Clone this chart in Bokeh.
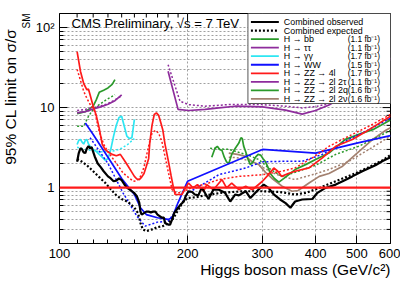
import numpy as np
from bokeh.plotting import figure
from bokeh.models import Range1d, FixedTicker, Span, Label, Title
from bokeh.embed import file_html
from bokeh.resources import INLINE
from bokeh.core.properties import value

# ---------------- data ----------------
obs_m = [110, 111, 112, 113, 114, 115, 116, 117, 118, 119, 120, 121, 123, 125, 127, 130, 132, 134, 136, 138,
         140, 142, 144, 146, 148, 150, 152, 154, 155, 156, 158, 160, 162, 164, 166, 168, 170, 172, 174, 176,
         177, 180, 182, 184, 186, 188, 190, 193, 196, 198, 201, 205, 208, 212, 216, 220, 224, 230, 237, 245,
         252, 259, 264, 274, 281, 291, 302, 310, 319, 330, 340, 349, 358, 372, 393, 404, 422, 446, 463, 488,
         515, 553, 575, 600]
obs_v = [2.1, 2.7, 3.1, 3.0, 2.75, 2.7, 3.1, 3.3, 3.1, 3.2, 2.8, 2.45, 2.0, 1.8, 1.6, 1.38, 1.3, 1.2, 1.22, 1.3,
         1.24, 1.1, 1.0, 0.95, 0.9, 0.85, 0.78, 0.65, 0.5, 0.46, 0.48, 0.5, 0.5, 0.49, 0.5, 0.5, 0.46, 0.44, 0.42, 0.42,
         0.36, 0.345, 0.345, 0.4, 0.48, 0.52, 0.56, 0.62, 0.67, 0.78, 0.9, 0.88, 0.82, 0.8, 1.0, 0.85, 0.72, 0.94, 0.94, 0.86,
         0.67, 0.82, 0.8, 0.9, 0.74, 0.9, 1.09, 0.99, 0.82, 0.71, 0.64, 0.56, 0.67, 0.71, 0.72, 0.86, 0.99, 1.09, 1.2, 1.38,
         1.6, 1.9, 2.15, 2.4]

exp_m = [110, 113, 116, 120, 124, 128, 132, 136, 140, 145, 150, 153, 155, 157, 160, 165, 170, 175, 180, 185,
         190, 195, 200, 210, 220, 240, 270, 300, 330, 358, 380, 410, 446, 488, 534, 575, 600]
exp_v = [2.28, 2.1, 1.9, 1.6, 1.35, 1.15, 0.95, 0.8, 0.72, 0.66, 0.56, 0.48, 0.36, 0.3, 0.285, 0.3, 0.32, 0.33, 0.36, 0.41,
         0.52, 0.66, 0.74, 0.76, 0.8, 0.86, 0.9, 0.9, 0.88, 0.82, 0.86, 1.0, 1.2, 1.45, 1.8, 2.2, 2.55]

bb_m = [110, 115, 120, 122, 124, 127, 130, 133, 135]
bb_obs = [8.4, 8.9, 10.4, 12.5, 15.5, 16.5, 17.6, 19.5, 22.4]
bb_exp_m = [110, 114, 117, 120, 124, 129, 135]
bb_exp = [5.85, 5.85, 7.8, 9.5, 10.9, 12.6, 14.5]

tt_m = [110, 115, 120, 125, 130, 135, 140]
tt_obs = [8.6, 8.9, 9.6, 10.2, 11.0, 12.2, 14.4]
tt_exp = [9.2, 9.5, 10.0, 10.5, 11.2, 12.5, 14.0]

gg_m = [110, 111, 112, 113, 114, 115, 116, 117, 118, 120, 122, 124, 126, 128, 130, 132, 134, 136, 138, 140,
        142, 144, 146, 148, 149, 150]
gg_obs = [3.45, 3.9, 4.0, 3.7, 3.5, 3.9, 4.0, 3.5, 3.28, 3.0, 2.84, 2.6, 2.4, 2.2, 2.3, 3.0, 4.4, 6.0, 7.5, 7.8,
          5.85, 4.4, 4.1, 4.2, 5.5, 7.1]
gg_exp_m = [110, 115, 120, 125, 130, 135, 140, 145, 150]
gg_exp = [3.2, 3.0, 2.9, 2.8, 2.8, 2.9, 3.1, 3.5, 4.1]

ww_m = [115, 120, 130, 140, 150, 155, 160, 170, 180, 184, 190, 200, 300, 400, 500, 600]
ww_obs = [6.4, 4.6, 2.4, 1.3, 0.82, 0.56, 0.46, 0.42, 0.4, 0.42, 0.65, 1.2, 3.0, 2.7, 3.6, 4.46]
ww_exp_m = [118, 130, 141, 152, 159, 170, 180, 190, 194, 200, 237, 274, 300, 333, 372, 415, 479, 534, 600]
ww_exp = [4.2, 2.0, 0.86, 0.44, 0.33, 0.37, 0.38, 0.55, 0.64, 0.85, 1.45, 1.76, 2.1, 2.13, 2.13, 2.6, 4.0, 5.3, 7.4]

zz4l_m = [110, 112, 114, 116, 117, 118, 120, 122, 124, 126, 128, 130, 133, 136, 139, 142, 145, 148, 150, 152,
          154, 156, 158, 160, 162, 163, 165, 167, 169, 171, 173, 175, 177, 180, 183, 185, 187, 194, 198, 201,
          206, 211, 218, 222, 230, 241, 247, 254, 264, 274, 284, 300, 310, 319, 326, 333, 345, 358, 386, 415,
          446, 488, 534, 600]
zz4l_obs = [50, 28.5, 20, 16.7, 17, 14.5, 10.4, 8, 5.5, 3.5, 3.0, 2.8, 2.6, 2.5, 2.6, 2.2, 1.85, 1.55, 1.38, 1.28,
            1.26, 1.35, 1.5, 1.85, 2.3, 3.6, 6.0, 8.2, 8.6, 8.0, 6.5, 5.2, 3.5, 2.24, 1.4, 1.04, 0.82, 0.82, 1.0, 1.14,
            0.99, 1.09, 0.9, 1.09, 0.94, 1.26, 0.99, 1.14, 0.94, 1.04, 0.94, 1.2, 1.45, 1.76, 1.6, 1.38, 1.5, 1.6, 1.76, 2.35,
            3.28, 4.0, 5.3, 7.8]
zz4l_exp_m = [110, 112, 114, 116, 118, 121, 124, 127, 130, 134, 138, 141, 145, 149, 152, 155, 158, 160, 163, 165,
              168, 171, 174, 177, 181, 184, 188, 194, 200, 210, 220, 237, 264, 300, 333, 358, 393, 430, 479, 534, 600]
zz4l_exp = [30, 22, 16, 13, 11, 9.0, 5.0, 3.5, 2.8, 2.24, 1.8, 1.53, 1.35, 1.2, 1.22, 1.38, 1.8, 2.46, 3.8, 4.8,
            5.2, 4.8, 3.8, 2.46, 1.4, 0.94, 0.86, 0.86, 0.95, 1.05, 1.1, 1.26, 1.38, 1.45, 1.6, 1.76, 2.35, 3.28, 4.4, 5.85, 8.2]

zz2l2t_m = [180, 190, 201, 220, 237, 259, 300, 340, 372, 400, 430, 500, 560, 600]
zz2l2t_obs = [28.5, 9.5, 9.2, 9.5, 9.9, 10.4, 10.2, 9.3, 8.3, 9.2, 10.8, 17, 28, 42]
zz2l2t_exp_m = [180, 192, 201, 220, 250, 300, 340, 372, 400, 430, 500, 560, 600]
zz2l2t_exp = [34.4, 12, 10.9, 10.4, 10.9, 10.9, 10.4, 9.9, 10.3, 11.2, 17, 28, 40]

zz2l2q_m = [228, 232, 235, 238, 241, 244, 247, 250, 254, 259, 264, 267, 269, 271, 274, 278, 281, 285, 289, 293,
            297, 301, 305, 309, 313, 320, 328, 340, 358, 380, 400, 430, 470, 515, 545, 600]
zz2l2q_obs = [2.4, 3.1, 3.28, 3.0, 2.9, 2.4, 2.1, 2.0, 2.6, 3.1, 3.6, 4.2, 4.1, 3.3, 2.8, 2.2, 1.94, 2.1, 2.4, 2.6,
              2.55, 2.3, 2.1, 1.8, 1.5, 1.3, 1.17, 1.35, 1.68, 1.95, 2.24, 2.7, 4.0, 4.8, 5.3, 7.0]
zz2l2q_exp_m = [226, 250, 259, 280, 294, 310, 333, 358, 400, 446, 505, 565, 600]
zz2l2q_exp = [3.1, 3.0, 2.84, 2.5, 2.24, 1.76, 1.38, 1.55, 1.9, 2.6, 3.28, 4.4, 5.2]

zz2l2n_m = [250, 262, 274, 284, 294, 305, 316, 333, 352, 364, 386, 408, 430, 463, 497, 545, 585, 600]
zz2l2n_obs = [2.7, 2.6, 2.46, 2.1, 1.94, 1.55, 1.3, 1.05, 0.9, 0.92, 1.14, 1.38, 1.5, 1.85, 2.6, 4.0, 5.2, 5.6]
zz2l2n_exp_m = [250, 264, 284, 300, 316, 333, 358, 393, 430, 479, 534, 600]
zz2l2n_exp = [2.4, 2.35, 2.1, 1.8, 1.55, 1.38, 1.26, 1.45, 1.68, 2.13, 3.0, 4.4]

x_ticks = [100, 200, 300, 400, 500, 600]
x_minor = [110, 120, 130, 140, 150, 160, 170, 180, 190]
y_ticks = [1, 10, 100]
y_minor = [0.2, 0.3, 0.4, 0.5, 0.6, 0.7, 0.8, 0.9, 2, 3, 4, 5, 6, 7, 8, 9, 20, 30, 40, 50, 60, 70, 80, 90]
y_tick_labels = {1: "1", 10: "10", 100: "10²"}

legend_labels = ["Combined observed", "Combined expected", "H → bb", "H → ττ", "H → γγ", "H → WW",
                 "H → ZZ → 4l", "H → ZZ → 2l 2τ", "H → ZZ → 2l 2q", "H → ZZ → 2l 2ν"]
legend_lumi = ["", "", "(1.1 fb⁻¹)", "(1.1 fb⁻¹)", "(1.7 fb⁻¹)", "(1.5 fb⁻¹)",
               "(1.7 fb⁻¹)", "(1.1 fb⁻¹)", "(1.6 fb⁻¹)", "(1.6 fb⁻¹)"]

# ---------------- styling ----------------
GREEN = "#2b9a2b"
PURPLE = "#8e2c9c"
CYAN = "#2de6f2"
BLUE = "#1010ff"
RED = "#ff1a1a"
BROWN = "#a38170"
FONT = "Liberation Sans"

W, H = 400, 279
X0, X1 = 100, 600
Y0, Y1 = 0.2, 150
FL, FR, FT, FB = 58, 390, 13, 243   # frame edges in canvas pixels


def gx(px):
    return 10 ** (np.log10(X0) + (px - FL) / (FR - FL) * np.log10(X1 / X0))


def gy(py):
    return 10 ** (np.log10(Y1) - (py - FT) / (FB - FT) * np.log10(Y1 / Y0))


p = figure(width=W, height=H, x_axis_type="log", y_axis_type="log",
           x_range=Range1d(X0, X1), y_range=Range1d(Y0, Y1),
           output_backend="svg", toolbar_location=None,
           min_border_left=FL, min_border_right=W - FR, min_border_top=FT, min_border_bottom=H - FB)
p.outline_line_color = "black"
p.outline_line_width = 1
p.background_fill_color = "white"
p.border_fill_color = "white"

xt = FixedTicker(ticks=x_ticks, minor_ticks=x_minor)
yt = FixedTicker(ticks=y_ticks, minor_ticks=y_minor)
for ax in p.xaxis:
    ax.ticker = xt
for ax in p.yaxis:
    ax.ticker = yt
    ax.major_label_overrides = y_tick_labels

for ax in list(p.xaxis) + list(p.yaxis):
    ax.major_tick_in = 8
    ax.major_tick_out = 0
    ax.minor_tick_in = 4
    ax.minor_tick_out = 0
    ax.axis_line_color = "black"
    ax.major_label_text_font = FONT
    ax.major_label_text_font_size = "13px"
    ax.major_label_text_color = "black"
    ax.major_label_standoff = 5

p.xgrid.grid_line_color = "#888888"
p.xgrid.grid_line_dash = "2 2"
p.xgrid.grid_line_width = 0.8
p.ygrid.grid_line_color = "#888888"
p.ygrid.grid_line_dash = "2 2"
p.ygrid.grid_line_width = 0.8
p.ygrid.minor_grid_line_color = "#888888"
p.ygrid.minor_grid_line_dash = "2 2"
p.ygrid.minor_grid_line_width = 0.8

# mirrored tick marks on the top and right edges of the frame
top_x = x_ticks + x_minor
top_len = [8] * len(x_ticks) + [4] * len(x_minor)
p.segment(x0=top_x, x1=top_x, y0=[Y1] * len(top_x), y1=[gy(FT + L) for L in top_len],
          line_color="black", line_width=1)
right_y = y_ticks + y_minor
right_len = [8] * len(y_ticks) + [4] * len(y_minor)
p.segment(x0=[X1] * len(right_y), x1=[gx(FR - L) for L in right_len], y0=right_y, y1=right_y,
          line_color="black", line_width=1)

p.add_layout(Span(location=1, dimension="width", line_color=RED, line_width=2.2))

DOT = "2 2"
series = [
    (bb_m, bb_obs, bb_exp_m, bb_exp, GREEN),
    (tt_m, tt_obs, tt_m, tt_exp, PURPLE),
    (gg_m, gg_obs, gg_exp_m, gg_exp, CYAN),
    (zz2l2t_m, zz2l2t_obs, zz2l2t_exp_m, zz2l2t_exp, PURPLE),
    (zz2l2n_m, zz2l2n_obs, zz2l2n_exp_m, zz2l2n_exp, BROWN),
    (zz2l2q_m, zz2l2q_obs, zz2l2q_exp_m, zz2l2q_exp, GREEN),
    (ww_m, ww_obs, ww_exp_m, ww_exp, BLUE),
    (zz4l_m, zz4l_obs, zz4l_exp_m, zz4l_exp, RED),
]
for m, o, me, e, c in series:
    p.line(me, e, line_color=c, line_width=1.5, line_dash=DOT)
    p.line(m, o, line_color=c, line_width=1.7)

p.line(exp_m, exp_v, line_color="black", line_width=2.2, line_dash=DOT)
p.line(obs_m, obs_v, line_color="black", line_width=2.2)

# ---------------- legend (drawn by hand, on top of the curves) ----------------
p.quad(left=[gx(247)], right=[X1], top=[Y1], bottom=[gy(103)],
       fill_color="white", line_color="#555555", line_width=1)
leg_colors = ["black", "black", GREEN, PURPLE, CYAN, BLUE, RED, PURPLE, GREEN, BROWN]
leg_dash = ["solid", DOT] + ["solid"] * 8
rows_y = [gy(21.5 + i * 8.55) for i in range(len(legend_labels))]
for i in range(len(legend_labels)):
    p.line([gx(250), gx(278)], [rows_y[i], rows_y[i]], line_color=leg_colors[i],
           line_width=2.2 if i < 2 else 1.8, line_dash=leg_dash[i])
p.text(x=[gx(283)] * len(legend_labels), y=rows_y, text=legend_labels,
       text_font=value(FONT), text_font_size="8.9px", text_baseline="middle", text_color="black")
p.text(x=[gx(347)] * len(legend_lumi), y=rows_y, text=legend_lumi,
       text_font=value(FONT), text_font_size="8.4px", text_baseline="middle", text_color="black")

# ---------------- titles ----------------
p.add_layout(Label(x=gx(70), y=gy(22.5), text="CMS Preliminary, √s = 7 TeV",
                   text_font=FONT, text_font_size="13.2px", text_baseline="middle", text_color="black"))

p.add_layout(Title(text="Higgs boson mass (GeV/c²)", align="right", standoff=-3,
                   text_font=FONT, text_font_size="15.5px", text_font_style="normal",
                   text_color="black"), "below")
p.add_layout(Title(text="SM", align="right", standoff=0, offset=0, vertical_align="middle",
                   text_font=FONT, text_font_size="10px", text_font_style="normal",
                   text_color="black"), "left")
p.add_layout(Title(text="95% CL limit on σ/σ", align="right", standoff=0, offset=15, vertical_align="middle",
                   text_font=FONT, text_font_size="15.5px", text_font_style="normal",
                   text_color="black"), "left")

open("out.html", "w").write(file_html(p, INLINE))
